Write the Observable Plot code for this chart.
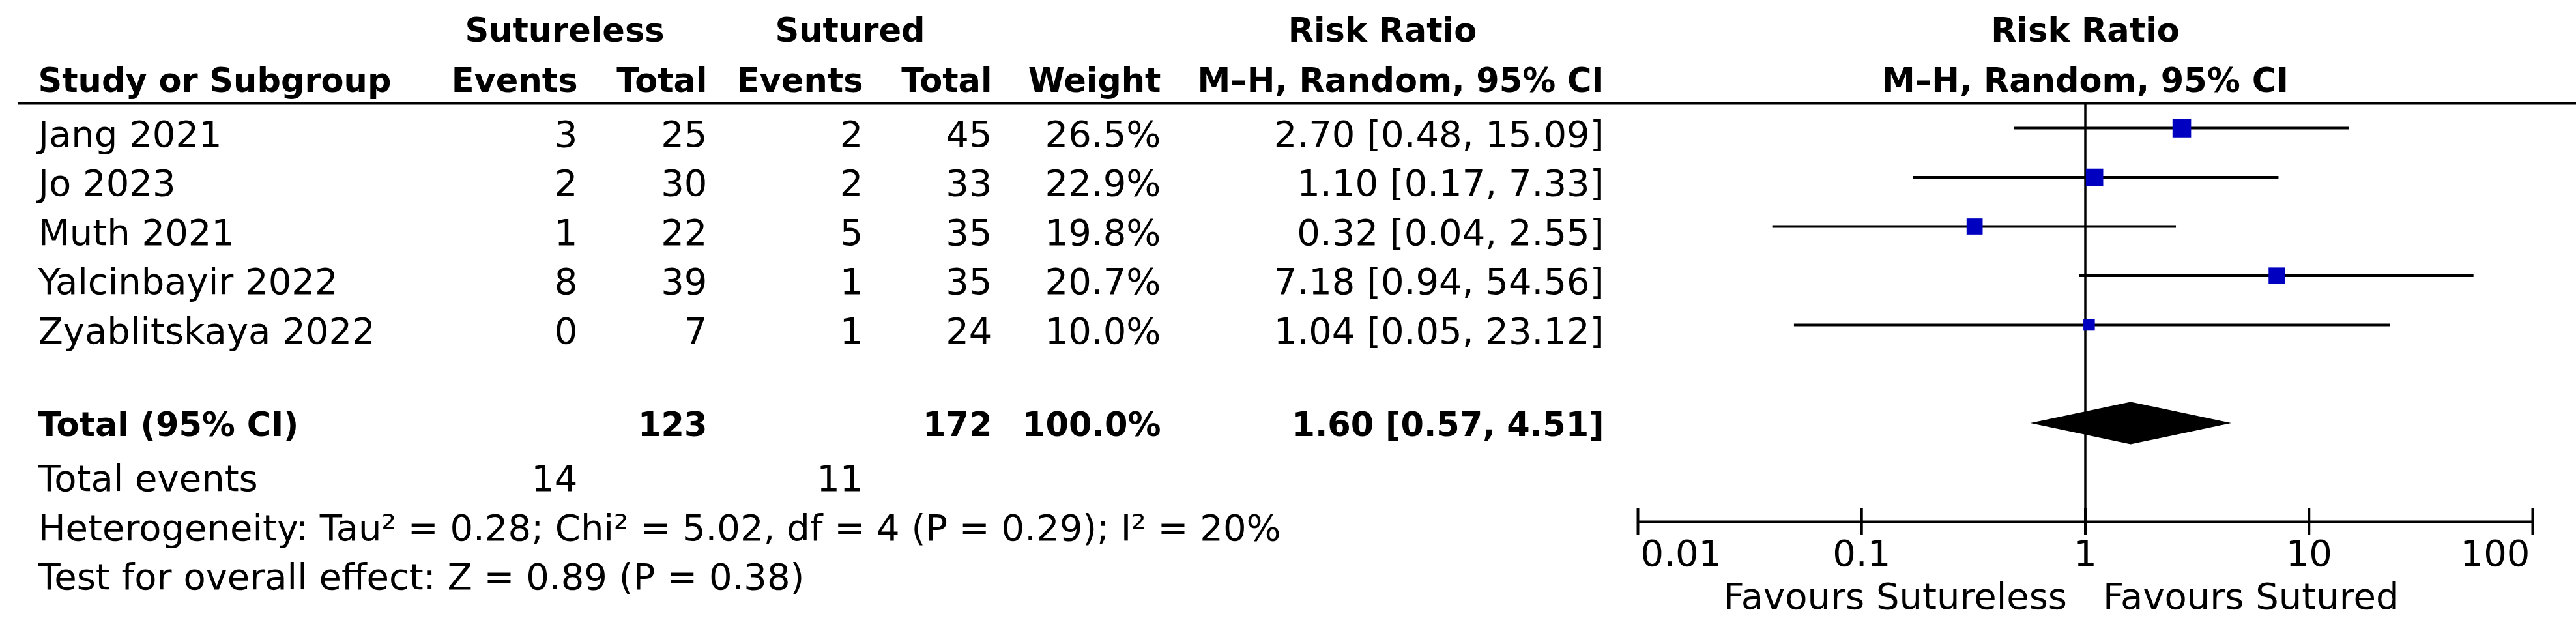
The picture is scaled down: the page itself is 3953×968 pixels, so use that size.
<!DOCTYPE html>
<html>
<head>
<meta charset="utf-8">
<script src="https://cdn.jsdelivr.net/npm/d3@7"></script>
<script src="https://cdn.jsdelivr.net/npm/@observablehq/plot@0.6"></script>
<style>
  body { margin: 0; background: #fff; }
  #chart { display: flex; width: 3953px; height: 968px; background: #fff; }
  #chart svg { display: block; }
</style>
</head>
<body>
<div id="chart"></div>
<script>
// ---------------- data ----------------
const studies = ["Jang 2021", "Jo 2023", "Muth 2021", "Yalcinbayir 2022", "Zyablitskaya 2022"];
const sutlessEvents = [3, 2, 1, 8, 0];
const sutlessTotal = [25, 30, 22, 39, 7];
const suturedEvents = [2, 2, 5, 1, 1];
const suturedTotal = [45, 33, 35, 35, 24];
const weights = [26.5, 22.9, 19.8, 20.7, 10.0];
const riskRatio = [2.70, 1.10, 0.32, 7.18, 1.04];
const ciLow = [0.48, 0.17, 0.04, 0.94, 0.05];
const ciHigh = [15.09, 7.33, 2.55, 54.56, 23.12];
const pooledRR = [1.60];
const pooledLow = [0.57];
const pooledHigh = [4.51];
const pooledWeight = [100.0];
const totalN = [123, 172];
const totalEvents = [14, 11];
const axisTicks = [0.01, 0.1, 1, 10, 100];
const tickLabels = ["0.01", "0.1", "1", "10", "100"];
const groupHeaders = ["Sutureless", "Sutured"];
const colHeaders = ["Events", "Total", "Events", "Total", "Weight", "M\u2013H, Random, 95% CI"];
const hetText = "Heterogeneity: Tau\u00B2 = 0.28; Chi\u00B2 = 5.02, df = 4 (P = 0.29); I\u00B2 = 20%";
const effectText = "Test for overall effect: Z = 0.89 (P = 0.38)";
const favourLabels = ["Favours Sutureless", "Favours Sutured"];

// ---------------- layout ----------------
const H = 968, W1 = 2480, W2 = 3953 - W1;
const FS = 56, FB = 51;
const FONT = "DejaVu Sans";
const colX = {label: 58, sE: 886, sT: 1085, uE: 1324, uT: 1522, w: 1781, ci: 2461};
const grpX = [866, 1304];
const riskHeadX = 2121;
const yScale = {type: "linear", domain: [0, 6], range: [196, 649]};
const rowH = 75.5;
const hdr1 = (63 - 196) / rowH, hdr2 = (140 - 196) / rowH, topRule = (158 - 196) / rowH;
const totalRow = 6, eventsRow = 7, hetRow = 8, effRow = 9, axisRow = 8;
const base = 28; // baseline offset below row centre

const fmt2 = v => v.toFixed(2);
const fmtCI = (r, l, h) => `${fmt2(r)} [${fmt2(l)}, ${fmt2(h)}]`;

const rows = studies.map((s, i) => ({
  i, study: s, sE: sutlessEvents[i], sT: sutlessTotal[i], uE: suturedEvents[i], uT: suturedTotal[i],
  w: weights[i].toFixed(1) + "%", ci: fmtCI(riskRatio[i], ciLow[i], ciHigh[i]),
  rr: riskRatio[i], lo: ciLow[i], hi: ciHigh[i], weight: weights[i]
}));

const txt = (data, opts) => Plot.text(data, {lineAnchor: "bottom", fill: "#000", fontSize: FS, ...opts});

// ---------------- left: table ----------------
const headerCols = [colX.sE, colX.sT, colX.uE, colX.uT, colX.w, colX.ci];
const left = Plot.plot({
  width: W1, height: H, margin: 0,
  x: {type: "linear", domain: [0, W1], range: [0, W1], axis: null},
  y: {...yScale, axis: null},
  style: {fontFamily: FONT, background: "#fff", color: "#000", overflow: "visible"},
  marks: [
    // header
    txt(groupHeaders, {x: (d, i) => grpX[i], y: () => hdr1, text: d => d, textAnchor: "middle", fontWeight: "bold", fontSize: FB}),
    txt(["Risk Ratio"], {x: () => riskHeadX, y: () => hdr1, text: d => d, textAnchor: "middle", fontWeight: "bold", fontSize: FB}),
    txt(["Study or Subgroup"], {x: () => colX.label, y: () => hdr2, text: d => d, textAnchor: "start", fontWeight: "bold", fontSize: FB}),
    txt(colHeaders, {x: (d, i) => headerCols[i], y: () => hdr2, text: d => d, textAnchor: "end", fontWeight: "bold", fontSize: FB}),
    Plot.ruleY([topRule], {x1: 28, x2: W1, stroke: "#000", strokeWidth: 4}),
    // study rows
    txt(rows, {x: () => colX.label, y: "i", dy: base, text: "study", textAnchor: "start"}),
    txt(rows, {x: () => colX.sE, y: "i", dy: base, text: "sE", textAnchor: "end"}),
    txt(rows, {x: () => colX.sT, y: "i", dy: base, text: "sT", textAnchor: "end"}),
    txt(rows, {x: () => colX.uE, y: "i", dy: base, text: "uE", textAnchor: "end"}),
    txt(rows, {x: () => colX.uT, y: "i", dy: base, text: "uT", textAnchor: "end"}),
    txt(rows, {x: () => colX.w, y: "i", dy: base, text: "w", textAnchor: "end"}),
    txt(rows, {x: () => colX.ci, y: "i", dy: base, text: "ci", textAnchor: "end"}),
    // total row
    txt(["Total (95% CI)"], {x: () => colX.label, y: () => totalRow, dy: 19, text: d => d, textAnchor: "start", fontWeight: "bold", fontSize: FB}),
    txt(totalN, {x: (d, i) => [colX.sT, colX.uT][i], y: () => totalRow, dy: 19, text: d => String(d), textAnchor: "end", fontWeight: "bold", fontSize: FB}),
    txt(pooledWeight, {x: () => colX.w, y: () => totalRow, dy: 19, text: d => d.toFixed(1) + "%", textAnchor: "end", fontWeight: "bold", fontSize: FB}),
    txt(pooledRR, {x: () => colX.ci, y: () => totalRow, dy: 19, text: (d, i) => fmtCI(d, pooledLow[i], pooledHigh[i]), textAnchor: "end", fontWeight: "bold", fontSize: FB}),
    // total events & stats
    txt(["Total events"], {x: () => colX.label, y: () => eventsRow, dy: base, text: d => d, textAnchor: "start"}),
    txt(totalEvents, {x: (d, i) => [colX.sE, colX.uE][i], y: () => eventsRow, dy: base, text: d => String(d), textAnchor: "end"}),
    txt([hetText], {x: () => colX.label, y: () => hetRow, dy: base, text: d => d, textAnchor: "start"}),
    txt([effectText], {x: () => colX.label, y: () => effRow, dy: base, text: d => d, textAnchor: "start"})
  ]
});

// ---------------- right: forest plot ----------------
const diamond = [
  {y: totalRow - 0.43, x1: pooledRR[0], x2: pooledRR[0]},
  {y: totalRow, x1: pooledLow[0], x2: pooledHigh[0]},
  {y: totalRow + 0.43, x1: pooledRR[0], x2: pooledRR[0]}
];
const tickData = axisTicks.map((t, i) => ({t, label: tickLabels[i], i}));
const n = tickData.length;
const right = Plot.plot({
  width: W2, height: H, margin: 0,
  x: {type: "log", domain: [0.01, 100], range: [2513 - W1, 3886 - W1], axis: null},
  y: {...yScale, axis: null},
  r: {type: "sqrt", domain: [0, 100], range: [0, 31.3]},
  style: {fontFamily: FONT, background: "#fff", color: "#000", overflow: "visible"},
  marks: [
    txt(["Risk Ratio"], {x: () => 1, y: () => hdr1, text: d => d, textAnchor: "middle", fontWeight: "bold", fontSize: FB}),
    txt(["M\u2013H, Random, 95% CI"], {x: () => 1, y: () => hdr2, text: d => d, textAnchor: "middle", fontWeight: "bold", fontSize: FB}),
    Plot.ruleY([topRule], {stroke: "#000", strokeWidth: 4}),
    Plot.ruleX([1], {y1: topRule, y2: axisRow, stroke: "#000", strokeWidth: 3.5}),
    Plot.ruleY(rows, {y: "i", x1: "lo", x2: "hi", stroke: "#000", strokeWidth: 4}),
    Plot.dot(rows, {x: "rr", y: "i", r: "weight", symbol: "square", fill: "#0000c0", stroke: null}),
    Plot.areaX(diamond, {y: "y", x1: "x1", x2: "x2", fill: "#000", curve: "linear"}),
    // axis
    Plot.ruleY([axisRow], {x1: axisTicks[0], x2: axisTicks[n - 1], stroke: "#000", strokeWidth: 4}),
    Plot.ruleX(axisTicks, {x: d => d, y1: axisRow - 21 / rowH, y2: axisRow + 21 / rowH, stroke: "#000", strokeWidth: 4}),
    txt(tickData.filter(d => d.i === 0), {x: "t", y: () => axisRow, dy: 67, dx: 4, text: "label", textAnchor: "start"}),
    txt(tickData.filter(d => d.i > 0 && d.i < n - 1), {x: "t", y: () => axisRow, dy: 67, text: "label", textAnchor: "middle"}),
    txt(tickData.filter(d => d.i === n - 1), {x: "t", y: () => axisRow, dy: 67, dx: -4, text: "label", textAnchor: "end"}),
    txt([favourLabels[0]], {x: () => 1, y: () => axisRow, dy: 133, dx: -28, text: d => d, textAnchor: "end"}),
    txt([favourLabels[1]], {x: () => 1, y: () => axisRow, dy: 133, dx: 27, text: d => d, textAnchor: "start"})
  ]
});

const host = document.getElementById("chart");
host.appendChild(left);
host.appendChild(right);
</script>
</body>
</html>
